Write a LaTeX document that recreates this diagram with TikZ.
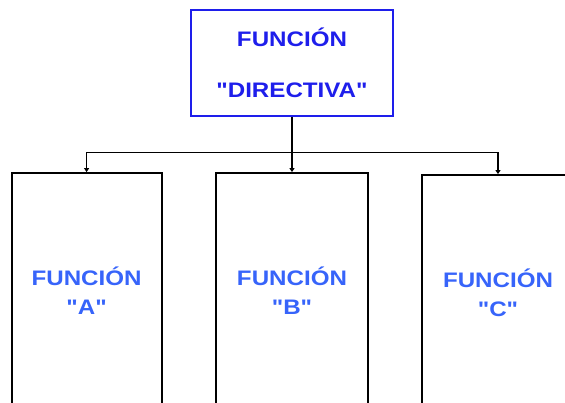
\documentclass[tikz,border=0pt]{standalone}
\usepackage{fontspec}
\newfontfamily\labfont[FakeStretch=1.15]{Liberation Sans}
\usetikzlibrary{arrows.meta}
\definecolor{topblue}{RGB}{30,30,235}
\definecolor{lowblue}{RGB}{55,100,250}
\begin{document}
\begin{tikzpicture}[x=1pt,y=-1pt,
  topbox/.style={draw=topblue,line width=1.6pt,minimum width=202pt,minimum height=106pt,
    text=topblue,align=center,inner sep=0pt,font=\labfont\bfseries\fontsize{21}{51}\selectfont},
  lowbox/.style={draw=black,line width=1.8pt,minimum width=150pt,minimum height=236pt,
    text=lowblue,align=center,inner sep=0pt,font=\labfont\bfseries\fontsize{21}{29}\selectfont},
  conn/.style={line width=1.7pt,black},
  arr/.style={conn,-{Triangle[length=4pt,width=5pt]}}]
\clip (0,0) rectangle (565,402);
\useasboundingbox (0,0) rectangle (565,402);
\node[topbox] (dir) at (292,63) {FUNCIÓN\\"DIRECTIVA"};
\node[lowbox] (A) at (86.6,291) {FUNCIÓN\\"A"};
\node[lowbox,minimum width=152pt] (B) at (292,291) {FUNCIÓN\\"B"};
\node[lowbox,minimum width=152pt] (C) at (498,293) {FUNCIÓN\\"C"};
\coordinate (j) at (292,152.5);
\draw[conn] (dir.south) -- (j);
\draw[arr] (j) -| (A.north);
\draw[arr] (j) -- (B.north);
\draw[arr] (j) -| (C.north);
\end{tikzpicture}
\end{document}
